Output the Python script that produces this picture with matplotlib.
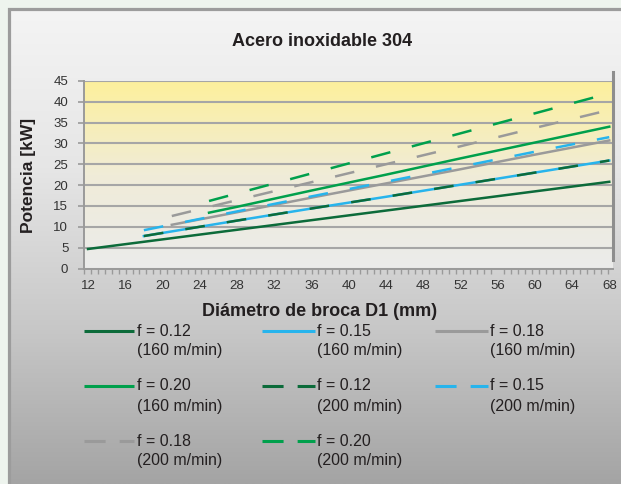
import numpy as np
import matplotlib
matplotlib.use("Agg")
import matplotlib.pyplot as plt
from matplotlib.colors import LinearSegmentedColormap
from matplotlib.lines import Line2D

plt.rcParams['font.family'] = ['Liberation Sans', 'DejaVu Sans']

# potencia (kW) frente a diámetro de broca (mm)
x_12_160 = [12, 20, 28, 36, 44, 52, 60, 68]
p_12_160 = [4.7, 7.0, 9.3, 11.6, 13.9, 16.2, 18.5, 20.8]
x_15_160 = [18, 28, 36, 44, 52, 60, 68]
p_15_160 = [7.8, 11.5, 14.4, 17.2, 20.1, 23.0, 25.9]
x_18_160 = [21, 28, 36, 44, 52, 60, 68]
p_18_160 = [10.5, 13.5, 17.0, 20.4, 23.8, 27.3, 30.7]
x_20_160 = [25, 28, 36, 44, 52, 60, 68]
p_20_160 = [13.4, 14.8, 18.7, 22.5, 26.4, 30.2, 34.0]
x_12_200 = [18, 28, 36, 44, 52, 60, 68]
p_12_200 = [7.8, 11.5, 14.4, 17.2, 20.1, 23.0, 25.9]
x_15_200 = [18, 28, 36, 44, 52, 60, 68]
p_15_200 = [9.2, 13.7, 17.3, 20.8, 24.4, 28.0, 31.5]
x_18_200 = [21, 28, 36, 44, 52, 60, 68]
p_18_200 = [12.6, 16.4, 20.7, 25.0, 29.3, 33.7, 38.0]
x_20_200 = [25, 28, 36, 44, 52, 60, 68]
p_20_200 = [16.2, 18.0, 22.8, 27.6, 32.4, 37.2, 42.0]

feeds = ['0.12', '0.15', '0.18', '0.20', '0.12', '0.15', '0.18', '0.20']
speeds = ['160 m/min'] * 4 + ['200 m/min'] * 4
xticks = list(range(12, 69, 4))
yticks = list(range(0, 46, 5))

series = [(x_12_160, p_12_160), (x_15_160, p_15_160), (x_18_160, p_18_160),
          (x_20_160, p_20_160), (x_12_200, p_12_200), (x_15_200, p_15_200),
          (x_18_200, p_18_200), (x_20_200, p_20_200)]
colors = ['#0c6b3a', '#27b4ec', '#9a9a9a', '#00a04c'] * 2
dashed = [False] * 4 + [True] * 4

W, H = 621, 484
fig = plt.figure(figsize=(W / 100, H / 100), dpi=100)
fig.patch.set_facecolor('#eef4ee')

# fondo del panel
bg = fig.add_axes([0, 0, 1, 1], zorder=-1)
bg.set_xlim(0, W)
bg.set_ylim(H, 0)
bg.axis('off')
panel_cmap = LinearSegmentedColormap.from_list('panel', ['#f4f4f4', '#e6e6e6', '#c8c8c8', '#a4a4a4'])
bg.imshow(np.linspace(0, 1, 256).reshape(-1, 1), cmap=panel_cmap, aspect='auto',
          extent=(9, W, H, 9), zorder=0)
bg.plot([8.5, 8.5, W], [H, 8.5, 8.5], color='#9c9c9c', lw=2.3, solid_joinstyle='miter', zorder=1)
bg.set_xlim(0, W)
bg.set_ylim(H, 0)

# área del gráfico
left, right, top, bottom = 84.3, 612.7, 80.8, 268.6
ax = fig.add_axes([left / W, 1 - bottom / H, (right - left) / W, (bottom - top) / H])
ax.patch.set_visible(False)
xlo, xhi = 11.6, 68.37
plot_cmap = LinearSegmentedColormap.from_list('plot', ['#ebebeb', '#f0ecd8', '#fdf09c'])
ax.imshow(np.linspace(0, 1, 256).reshape(-1, 1), cmap=plot_cmap, aspect='auto',
          origin='lower', extent=(xlo, xhi, 0, 45), zorder=0)

for (xs, ps), c, d in zip(series, colors, dashed):
    ls = (0, (7.9, 8.9)) if d else '-'
    ax.plot(xs, ps, color=c, lw=1.8, ls=ls, zorder=3)

ax.set_xlim(xlo, xhi)
ax.set_ylim(0, 45)
ax.set_yticks(yticks)
ax.set_xticks(xticks)
ax.set_xticks(np.arange(11.6, 68.4, 0.74), minor=True)
ax.yaxis.grid(True, color='#a6a6a6', lw=1.5, zorder=1)
ax.set_axisbelow(True)
for s in ['top', 'right']:
    ax.spines[s].set_visible(False)
for s in ['left', 'bottom']:
    ax.spines[s].set_color('#9a9a9a')
    ax.spines[s].set_linewidth(1.4)
ax.add_line(Line2D([1, 1], [0.046, 1.048], transform=ax.transAxes, color='#8e8e8e',
                   lw=2.2, clip_on=False))
ax.tick_params(axis='y', length=4, width=1.2, color='#9a9a9a', pad=7.5,
               labelsize=9.5, labelcolor='#333333')
ax.tick_params(axis='x', which='major', length=0, pad=8, labelsize=9.5, labelcolor='#333333')
ax.tick_params(axis='x', which='minor', length=3.5, width=1.0, color='#9a9a9a')

txt = '#231f20'
fig.text(322 / W, 1 - 42 / H, 'Acero inoxidable 304', ha='center', va='center',
         fontsize=13, fontweight='bold', color=txt)
fig.text(320 / W, 1 - 311 / H, 'Diámetro de broca D1 (mm)', ha='center', va='center',
         fontsize=13, fontweight='bold', color=txt)
fig.text(28 / W, 1 - 175 / H, 'Potencia [kW]', ha='center', va='center', rotation=90,
         fontsize=12.5, fontweight='bold', color=txt)

# leyenda dibujada a mano (3 columnas)
col_x0 = [84, 262, 435]
col_x1 = [134, 315, 488]
col_tx = [137, 317, 490]
row_y = [331, 386, 441]
for i, (f, v) in enumerate(zip(feeds, speeds)):
    r, c = divmod(i, 3)
    ls = (0, (6.9, 4.6)) if dashed[i] else '-'
    bg.plot([col_x0[c], col_x1[c]], [row_y[r], row_y[r]], color=colors[i], lw=2.2,
            ls=ls, solid_capstyle='butt', dash_capstyle='butt', zorder=3)
    bg.text(col_tx[c], row_y[r], f'f = {f}', ha='left', va='center', fontsize=11.5, color=txt)
    bg.text(col_tx[c], row_y[r] + 20, f'({v})', ha='left', va='center', fontsize=11.5, color=txt)

fig.savefig('out.png', dpi=100)
